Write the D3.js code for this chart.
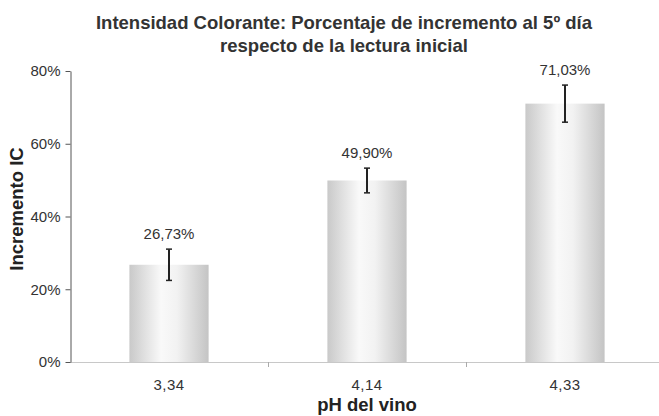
<!DOCTYPE html>
<html>
  <head>
    <meta charset="utf-8">
    <title>Intensidad Colorante</title>
    <script src="https://d3js.org/d3.v7.min.js"></script>
    <style>
      body { margin: 0; background: #ffffff; }
      text { font-family: "Liberation Sans", Arial, sans-serif; }
    </style>
  </head>
  <body>
    <svg width="659" height="416"></svg>
    <script>
      // datos
      var categories = ["3,34", "4,14", "4,33"];
      var values = [26.73, 49.90, 71.03];
      var errors = [4.3, 3.4, 5.1];
      var valueLabels = ["26,73%", "49,90%", "71,03%"];
      var yTicks = [0, 20, 40, 60, 80];

      var margin = { top: 71, right: 0, bottom: 54, left: 70 },
          width = 664 - margin.left - margin.right,
          height = 416 - margin.top - margin.bottom;

      var svg = d3.select("svg");

      // degradado de las barras
      var grad = svg.append("defs").append("linearGradient")
          .attr("id", "barGrad")
          .attr("x1", "0%").attr("x2", "100%")
          .attr("y1", "0%").attr("y2", "0%");
      grad.append("stop").attr("offset", "0%").attr("stop-color", "#c9c9c9");
      grad.append("stop").attr("offset", "40%").attr("stop-color", "#f9f9f9");
      grad.append("stop").attr("offset", "60%").attr("stop-color", "#f2f2f2");
      grad.append("stop").attr("offset", "100%").attr("stop-color", "#c4c4c4");

      var g = svg.append("g")
          .attr("transform", "translate(" + margin.left + "," + margin.top + ")");

      var xScale = d3.scaleBand()
          .domain(categories)
          .range([0, width])
          .paddingInner(0)
          .paddingOuter(0);

      var yScale = d3.scaleLinear()
          .domain([0, 80])
          .range([height, 0]);

      var barW = xScale.bandwidth() * 0.4;

      // barras
      g.selectAll(".bar")
          .data(values)
          .enter()
          .append("rect")
          .attr("class", "bar")
          .attr("x", function(d, i) { return xScale(categories[i]) + (xScale.bandwidth() - barW) / 2; })
          .attr("y", function(d) { return yScale(d); })
          .attr("width", barW)
          .attr("height", function(d) { return height - yScale(d); })
          .attr("fill", "url(#barGrad)");

      // barras de error
      var eb = g.selectAll(".err")
          .data(values)
          .enter()
          .append("g")
          .attr("class", "err")
          .attr("transform", function(d, i) { return "translate(" + (xScale(categories[i]) + xScale.bandwidth() / 2) + ",0)"; });
      eb.append("line")
          .attr("x1", 0).attr("x2", 0)
          .attr("y1", function(d, i) { return yScale(d + errors[i]); })
          .attr("y2", function(d, i) { return yScale(d - errors[i]); })
          .attr("stroke", "#222").attr("stroke-width", 2);
      eb.append("line")
          .attr("x1", -3).attr("x2", 3)
          .attr("y1", function(d, i) { return yScale(d + errors[i]); })
          .attr("y2", function(d, i) { return yScale(d + errors[i]); })
          .attr("stroke", "#222").attr("stroke-width", 1.5);
      eb.append("line")
          .attr("x1", -3).attr("x2", 3)
          .attr("y1", function(d, i) { return yScale(d - errors[i]); })
          .attr("y2", function(d, i) { return yScale(d - errors[i]); })
          .attr("stroke", "#222").attr("stroke-width", 1.5);

      // etiquetas de valor
      eb.append("text")
          .attr("x", 0)
          .attr("y", function(d, i) { return yScale(d + errors[i]) - 10; })
          .attr("text-anchor", "middle")
          .attr("fill", "#333")
          .style("font-size", "15px")
          .text(function(d, i) { return valueLabels[i]; });

      // eje x
      g.append("line")
          .attr("x1", 0).attr("x2", width)
          .attr("y1", height + 0.5).attr("y2", height + 0.5)
          .attr("stroke", "#c8c8c8");
      g.selectAll(".xtick")
          .data(categories.slice(1))
          .enter()
          .append("line")
          .attr("x1", function(d) { return Math.round(xScale(d)) + 0.5; })
          .attr("x2", function(d) { return Math.round(xScale(d)) + 0.5; })
          .attr("y1", height).attr("y2", height + 5)
          .attr("stroke", "#aaa");
      g.selectAll(".xlabel")
          .data(categories)
          .enter()
          .append("text")
          .attr("x", function(d) { return xScale(d) + xScale.bandwidth() / 2; })
          .attr("y", height + 28)
          .attr("text-anchor", "middle")
          .attr("fill", "#333")
          .style("font-size", "15px")
          .style("letter-spacing", "0.5px")
          .text(function(d) { return d; });

      // eje y
      var yAxis = d3.axisLeft(yScale)
          .tickValues(yTicks)
          .tickSize(5)
          .tickSizeOuter(0)
          .tickFormat(function(d) { return d + "%"; });
      var ya = g.append("g").attr("transform", "translate(0.5,0)").call(yAxis);
      ya.select(".domain").attr("stroke", "#555");
      ya.selectAll(".tick line").attr("stroke", "#555");
      ya.selectAll(".tick text")
          .attr("x", -10)
          .attr("fill", "#333")
          .style("font-size", "15px")
          .style("font-family", "'Liberation Sans', Arial, sans-serif");

      // títulos
      svg.append("text")
          .attr("x", 344).attr("y", 29)
          .attr("text-anchor", "middle")
          .attr("fill", "#333")
          .style("font-size", "18.5px").style("font-weight", "bold")
          .text("Intensidad Colorante: Porcentaje de incremento al 5º día");
      svg.append("text")
          .attr("x", 344).attr("y", 52)
          .attr("text-anchor", "middle")
          .attr("fill", "#333")
          .style("font-size", "18.5px").style("font-weight", "bold")
          .text("respecto de la lectura inicial");

      svg.append("text")
          .attr("transform", "translate(23,209) rotate(-90)")
          .attr("text-anchor", "middle")
          .attr("fill", "#222")
          .style("font-size", "18.5px").style("font-weight", "bold")
          .text("Incremento IC");

      svg.append("text")
          .attr("x", margin.left + xScale.bandwidth() * 1.5)
          .attr("y", 411)
          .attr("text-anchor", "middle")
          .attr("fill", "#222")
          .style("font-size", "18.5px").style("font-weight", "bold")
          .text("pH del vino");
    </script>
  </body>
</html>
